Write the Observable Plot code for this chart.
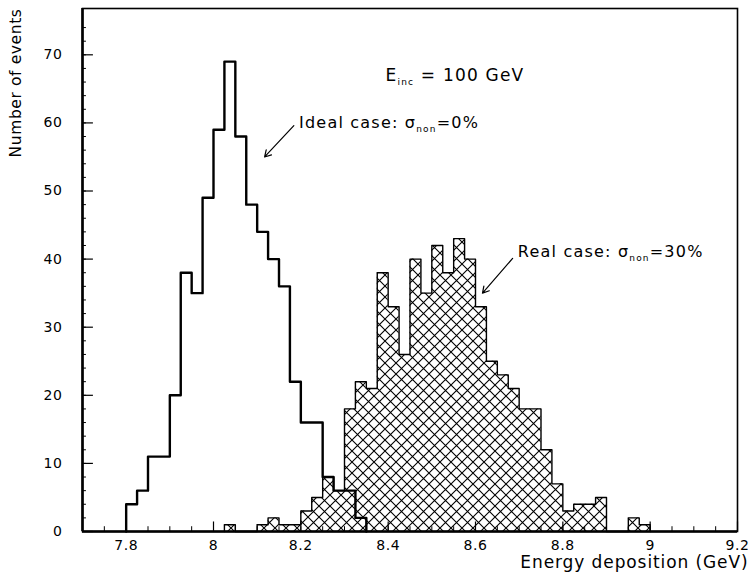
<!DOCTYPE html>
<html><head><meta charset="utf-8">
<script src="https://cdn.jsdelivr.net/npm/d3@7"></script>
<script src="https://cdn.jsdelivr.net/npm/@observablehq/plot@0.6"></script>
<style>
body{margin:0;background:#fff;}
svg text{letter-spacing:0.6px;}
.sub text{letter-spacing:1.2px;}
.ylab text{letter-spacing:0.6px;}
.xlab text{letter-spacing:0.9px;}
</style>
</head><body><div id="chart"></div>
<script>
// ---- data ----
const binWidth = 0.025;
const idealStart = 7.8;
const idealCounts = [4, 6, 11, 11, 20, 38, 35, 49, 59, 69, 58, 48, 44, 40, 36, 22, 16, 16, 8, 6, 6, 2];
const realStart = 8.025;
const realCounts = [1, 0, 0, 1, 2, 1, 1, 3, 5, 8, 6, 18, 22, 21, 38, 33, 26, 40, 35, 42, 38, 43, 40, 33, 25, 23, 21, 18, 18, 12, 7, 3, 4, 4, 5, 0, 0, 2, 1];
const xDomain = [7.7, 9.2];
const yDomain = [0, 76.8];
const xTicks = [7.8, 8, 8.2, 8.4, 8.6, 8.8, 9, 9.2];
const xTickLabels = ["7.8", "8", "8.2", "8.4", "8.6", "8.8", "9", "9.2"];
const yTicks = [0, 10, 20, 30, 40, 50, 60, 70];
const yTickLabels = ["0", "10", "20", "30", "40", "50", "60", "70"];
const xMinor = d3.range(7.75, 9.2, 0.05);
const yMinor = d3.range(2, 76, 2);
const titleLabel = ["E_{inc} = 100 GeV"];
const titleAt = [{x: 8.394, y: 67.0}];
const notes = ["Ideal case: σ_{non}=0%", "Real case: σ_{non}=30%"];
const noteAt = [{x: 8.196, y: 60.0}, {x: 8.697, y: 41.0}];
const arrowFrom = [{x: 8.184, y: 59.6}, {x: 8.685, y: 40.1}];
const arrowTo = [{x: 8.117, y: 55.0}, {x: 8.616, y: 35.0}];

function stepOutline(start, counts) {
  const pts = [{x: start, y: 0}];
  counts.forEach((c, i) => pts.push({x: start + i * binWidth, y: c}));
  const end = start + counts.length * binWidth;
  pts.push({x: end, y: counts[counts.length - 1]});
  pts.push({x: end, y: 0});
  return pts;
}
const idealPts = stepOutline(idealStart, idealCounts);
const realPts = stepOutline(realStart, realCounts);
const arrows = arrowFrom.map((a, i) => ({x1: a.x, y1: a.y, x2: arrowTo[i].x, y2: arrowTo[i].y}));

const font = "DejaVu Sans";
const chart = Plot.plot({
  width: 756, height: 579,
  marginLeft: 82, marginRight: 19, marginTop: 8, marginBottom: 48,
  style: {fontFamily: font, fontSize: "14px", background: "#fff", color: "#000"},
  x: {domain: xDomain, ticks: xTicks, tickSize: 0, tickPadding: 9, label: null,
      tickFormat: d => xTickLabels[xTicks.indexOf(d)]},
  y: {domain: yDomain, ticks: yTicks, tickSize: 0, tickPadding: 20, label: null,
      tickFormat: d => yTickLabels[yTicks.indexOf(d)]},
  marks: [
    Plot.areaY(realPts, {x: "x", y: "y", curve: "step-after", fill: "url(#xhatch)"}),
    Plot.line(realPts, {x: "x", y: "y", curve: "step-after", stroke: "#000", strokeWidth: 1.4}),
    Plot.line(idealPts, {x: "x", y: "y", curve: "step-after", stroke: "#000", strokeWidth: 2.4}),
    // inward ticks
    Plot.ruleX(xMinor, {x: d => d, y1: 0, y2: 0.7, stroke: "#000", strokeWidth: 1}),
    Plot.ruleX(xTicks, {x: d => d, y1: 0, y2: 1.4, stroke: "#000", strokeWidth: 1.2}),
    Plot.ruleY(yMinor, {y: d => d, x1: xDomain[0], x2: xDomain[0] + 0.009, stroke: "#000", strokeWidth: 1}),
    Plot.ruleY(yTicks, {y: d => d, x1: xDomain[0], x2: xDomain[0] + 0.025, stroke: "#000", strokeWidth: 1.2}),
    Plot.frame({stroke: "#000", strokeWidth: 1.6}),
    Plot.ruleX([xDomain[0]], {stroke: "#000", strokeWidth: 2.6}),
    Plot.ruleY([yDomain[0]], {stroke: "#000", strokeWidth: 2.6}),
    // annotations
    Plot.text(titleLabel, {x: titleAt.map(d => d.x), y: titleAt.map(d => d.y), text: d => d,
      textAnchor: "start", lineAnchor: "middle", fontSize: 17, className: "sub"}),
    Plot.text(notes, {x: noteAt.map(d => d.x), y: noteAt.map(d => d.y), text: d => d,
      textAnchor: "start", lineAnchor: "middle", fontSize: 16, className: "sub"}),
    Plot.arrow(arrows, {x1: "x1", y1: "y1", x2: "x2", y2: "y2", stroke: "#000", strokeWidth: 1.2, headLength: 9}),
    // axis titles
    Plot.text(["Number of events"], {frameAnchor: "top-left", text: d => d, rotate: -90,
      textAnchor: "end", lineAnchor: "middle", dx: -66, dy: 0, fontSize: 15.5, className: "ylab"}),
    Plot.text(["Energy deposition (GeV)"], {frameAnchor: "bottom-right", text: d => d,
      textAnchor: "end", lineAnchor: "middle", dx: 11, dy: 31, fontSize: 17, className: "xlab"})
  ]
});

// crosshatch pattern
const ns = "http://www.w3.org/2000/svg";
const defs = document.createElementNS(ns, "defs");
const pat = document.createElementNS(ns, "pattern");
pat.setAttribute("id", "xhatch");
pat.setAttribute("patternUnits", "userSpaceOnUse");
pat.setAttribute("width", "11");
pat.setAttribute("height", "11");
const bg = document.createElementNS(ns, "rect");
bg.setAttribute("width", "11"); bg.setAttribute("height", "11"); bg.setAttribute("fill", "#fff");
const p = document.createElementNS(ns, "path");
p.setAttribute("d", "M0,0L11,11M11,0L0,11");
p.setAttribute("stroke", "#000");
p.setAttribute("stroke-width", "1.1");
p.setAttribute("fill", "none");
pat.appendChild(bg); pat.appendChild(p); defs.appendChild(pat);
chart.insertBefore(defs, chart.firstChild);

// subscripts
chart.querySelectorAll("g.sub text").forEach(t => {
  const s = t.textContent;
  const m = s.match(/^(.*?)_\{(.*?)\}(.*)$/);
  if (!m) return;
  t.textContent = "";
  const a = document.createElementNS(ns, "tspan"); a.textContent = m[1];
  const b = document.createElementNS(ns, "tspan"); b.textContent = m[2];
  b.setAttribute("font-size", "9"); b.setAttribute("dy", "4");
  const c = document.createElementNS(ns, "tspan"); c.textContent = m[3]; c.setAttribute("dy", "-4");
  t.appendChild(a); t.appendChild(b); t.appendChild(c);
});
document.getElementById("chart").appendChild(chart);
</script>
</body></html>
